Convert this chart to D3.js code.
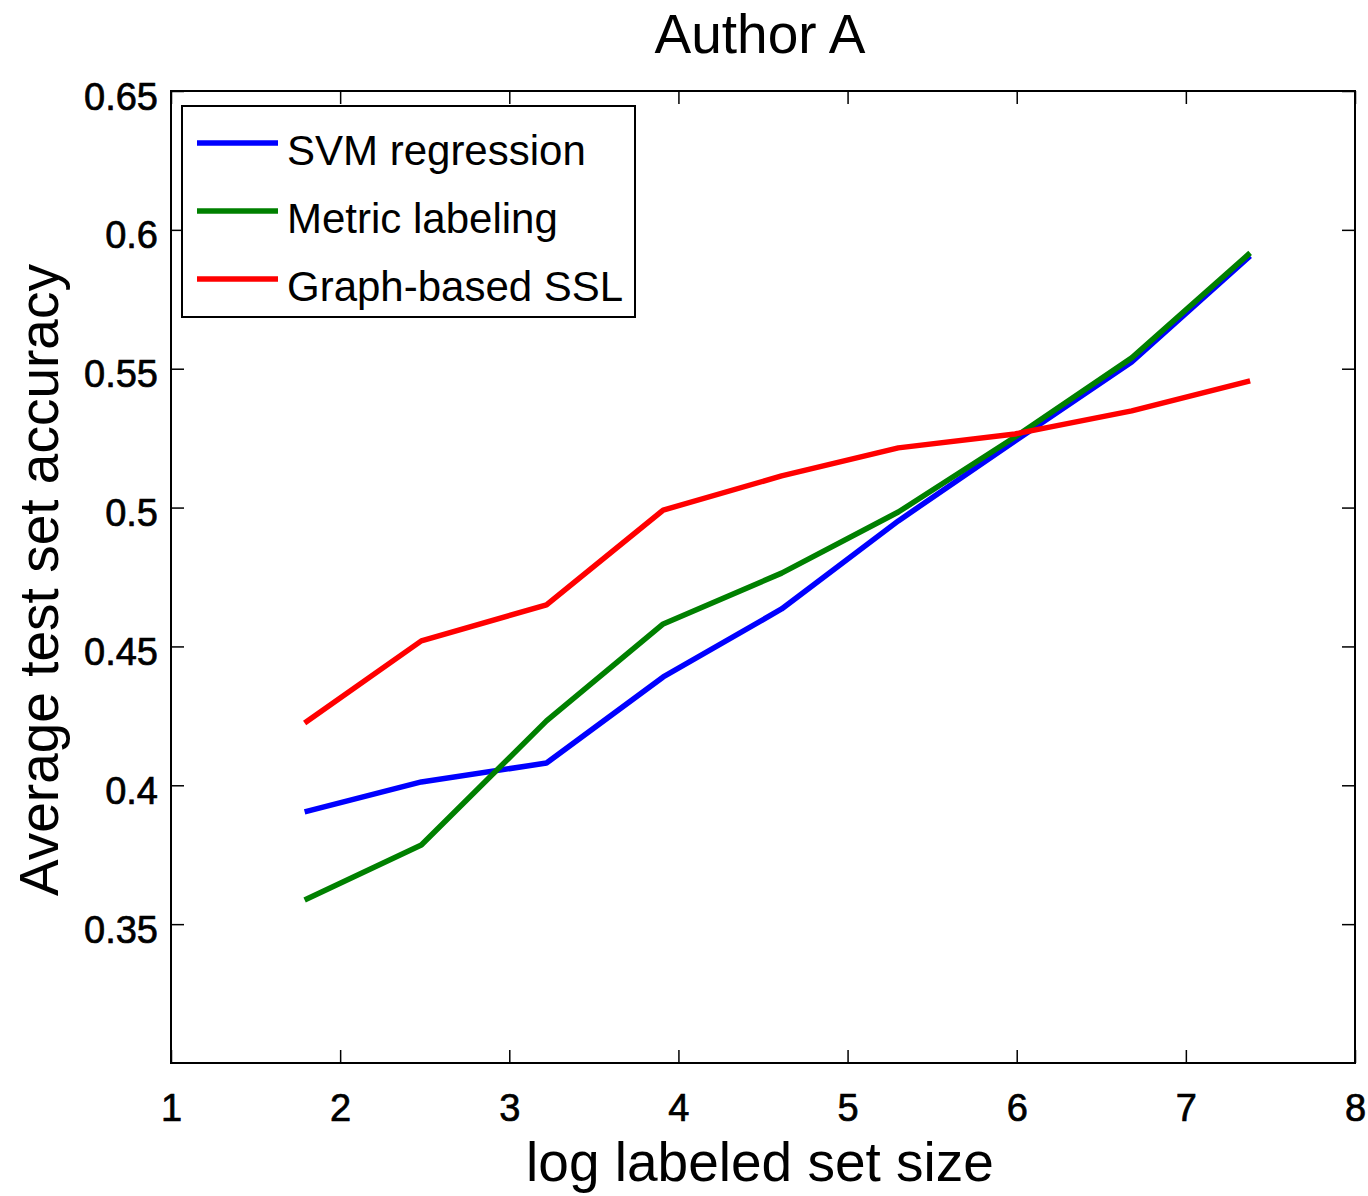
<!DOCTYPE html>
<html>
<head>
<meta charset="utf-8">
<script src="https://cdn.jsdelivr.net/npm/d3@7"></script>
<style>
  html, body { margin: 0; padding: 0; background: #fff; }
  svg { display: block; font-family: "Liberation Sans", Arial, Helvetica, sans-serif; }
</style>
</head>
<body>
<svg id="chart" width="1368" height="1196"></svg>
<script>
const title = "Author A";
const xLabel = "log labeled set size";
const yLabel = "Average test set accuracy";
const xValues = [1.79, 2.48, 3.22, 3.91, 4.61, 5.30, 5.99, 6.68, 7.38];
const svmValues = [0.3904, 0.4012, 0.4080, 0.4390, 0.4635, 0.4952, 0.5240, 0.5524, 0.5906];
const metricValues = [0.3587, 0.3785, 0.4232, 0.4581, 0.4764, 0.4984, 0.5254, 0.5539, 0.5917];
const graphValues = [0.4224, 0.4520, 0.4650, 0.4991, 0.5114, 0.5215, 0.5265, 0.5348, 0.5456];
const seriesNames = ["SVM regression", "Metric labeling", "Graph-based SSL"];
const seriesColors = ["#0000ff", "#008000", "#ff0000"];
const xTicks = [1, 2, 3, 4, 5, 6, 7, 8];
const yTicks = [0.35, 0.4, 0.45, 0.5, 0.55, 0.6, 0.65];
const yTickLabels = ["0.35", "0.4", "0.45", "0.5", "0.55", "0.6", "0.65"];

const series = [svmValues, metricValues, graphValues].map((vals, i) => ({
  name: seriesNames[i], color: seriesColors[i],
  points: vals.map((v, j) => [xValues[j], v])
}));

const pLeft = 171, pRight = 1355, pTop = 91, pBottom = 1063;
const x = d3.scaleLinear().domain([1, 8]).range([pLeft, pRight]);
const y = d3.scaleLinear().domain([0.3, 0.65]).range([pBottom, pTop]);

const svg = d3.select("#chart");
const tickLen = 13;

// frame
svg.append("rect").attr("x", pLeft).attr("y", pTop)
  .attr("width", pRight - pLeft).attr("height", pBottom - pTop)
  .attr("fill", "none").attr("stroke", "#000").attr("stroke-width", 2);

function styleAxis(g) {
  g.select(".domain").remove();
  g.selectAll(".tick line").attr("stroke", "#000").attr("stroke-width", 1.5);
}

// bottom axis
svg.append("g").attr("transform", `translate(0,${pBottom})`)
  .call(d3.axisBottom(x).tickValues(xTicks).tickSizeInner(-tickLen).tickSizeOuter(0).tickFormat(d3.format("d")))
  .call(styleAxis)
  .call(g => g.selectAll(".tick text").attr("y", 58).attr("dy", null)
    .attr("font-size", 38).attr("fill", "#000").attr("stroke", "#000").attr("stroke-width", 0.7)
    .attr("font-family", "Liberation Sans, Arial, sans-serif"));

// top axis
svg.append("g").attr("transform", `translate(0,${pTop})`)
  .call(d3.axisTop(x).tickValues(xTicks).tickSizeInner(-tickLen).tickSizeOuter(0).tickFormat(""))
  .call(styleAxis);

// left axis
svg.append("g").attr("transform", `translate(${pLeft},0)`)
  .call(d3.axisLeft(y).tickValues(yTicks).tickSizeInner(-tickLen).tickSizeOuter(0)
    .tickFormat((d, i) => yTickLabels[i]))
  .call(styleAxis)
  .call(g => g.selectAll(".tick text").attr("x", -13).attr("dy", null).attr("y", 18)
    .attr("font-size", 38).attr("fill", "#000").attr("stroke", "#000").attr("stroke-width", 0.7)
    .attr("font-family", "Liberation Sans, Arial, sans-serif"));

// right axis
svg.append("g").attr("transform", `translate(${pRight},0)`)
  .call(d3.axisRight(y).tickValues(yTicks).tickSizeInner(-tickLen).tickSizeOuter(0).tickFormat(""))
  .call(styleAxis);

// lines
const line = d3.line().x(d => x(d[0])).y(d => y(d[1]));
svg.append("g").selectAll("path").data(series).join("path")
  .attr("d", d => line(d.points))
  .attr("fill", "none").attr("stroke", d => d.color)
  .attr("stroke-width", 5.5).attr("stroke-linejoin", "round");

// title
svg.append("text").attr("x", 760).attr("y", 53).attr("text-anchor", "middle")
  .attr("font-size", 55).attr("fill", "#000").text(title);

// x label
svg.append("text").attr("x", 760).attr("y", 1181).attr("text-anchor", "middle")
  .attr("font-size", 55).attr("fill", "#000").text(xLabel);

// y label
svg.append("text").attr("transform", `translate(58,${(pTop + pBottom) / 2 + 3}) rotate(-90)`)
  .attr("text-anchor", "middle").attr("font-size", 55).attr("fill", "#000").text(yLabel);

// legend
const legend = svg.append("g");
legend.append("rect").attr("x", 182).attr("y", 106).attr("width", 453).attr("height", 211)
  .attr("fill", "#fff").attr("stroke", "#000").attr("stroke-width", 2);
const items = legend.selectAll("g.item").data(series).join("g").attr("class", "item")
  .attr("transform", (d, i) => `translate(0,${143 + i * 68})`);
items.append("line").attr("x1", 197).attr("x2", 278).attr("y1", 0).attr("y2", 0)
  .attr("stroke", d => d.color).attr("stroke-width", 5.5);
items.append("text").attr("x", 287).attr("y", 22).attr("font-size", 42).attr("fill", "#000")
  .text(d => d.name);
</script>
</body>
</html>
